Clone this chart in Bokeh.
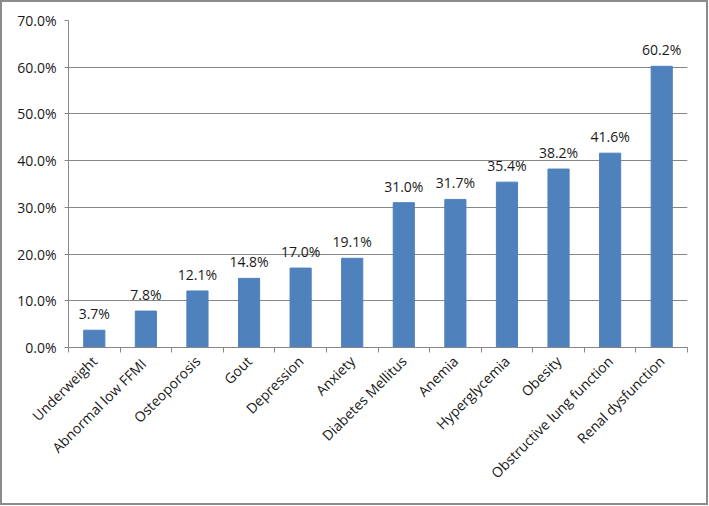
import math
from bokeh.plotting import figure
from bokeh.models import ColumnDataSource, FixedTicker, PrintfTickFormatter, Range1d
from bokeh.core.properties import value
from bokeh.embed import file_html
from bokeh.resources import INLINE

categories = ["Underweight", "Abnormal  low FFMI", "Osteoporosis", "Gout", "Depression",
              "Anxiety", "Diabetes Mellitus", "Anemia", "Hyperglycemia", "Obesity",
              "Obstructive lung function", "Renal dysfunction"]
prevalence = [3.7, 7.8, 12.1, 14.8, 17.0, 19.1, 31.0, 31.7, 35.4, 38.2, 41.6, 60.2]
y_ticks = [0, 10, 20, 30, 40, 50, 60, 70]

FONT = "Open Sans"
GRID = "#878787"
TEXT = "#1a1a1a"

n = len(categories)
centers = [i + 0.5 for i in range(n)]
src = ColumnDataSource(dict(x=centers, top=prevalence,
                            label=[f"{v:.1f}%" for v in prevalence]))

p = figure(width=704, height=501, output_backend="svg", toolbar_location=None,
           x_range=Range1d(0, n), y_range=Range1d(0, 70),
           min_border_left=66, min_border_right=19, min_border_top=18, min_border_bottom=156)
p.frame_width = 619
p.frame_height = 327
p.styles = {"border": "2px solid #8c8c8c", "box-sizing": "border-box"}
p.outline_line_color = None
p.background_fill_color = "white"
p.border_fill_color = "white"

p.vbar(x="x", top="top", width=0.41, bottom=0, source=src,
       fill_color="#4F81BD", line_color="#4F81BD")
p.text(x="x", y="top", text="label", source=src, text_align="center",
       text_baseline="bottom", y_offset=-7, text_font=value(FONT),
       text_font_size="14px", text_color=TEXT)

# y axis
p.yaxis.ticker = FixedTicker(ticks=y_ticks, minor_ticks=[])
p.yaxis.formatter = PrintfTickFormatter(format="%.1f%%")
p.yaxis.axis_line_color = GRID
p.yaxis.major_tick_line_color = GRID
p.yaxis.major_tick_out = 4
p.yaxis.major_tick_in = 0
p.yaxis.minor_tick_line_color = None
p.yaxis.major_label_standoff = 8
p.yaxis.major_label_text_font = FONT
p.yaxis.major_label_text_font_size = "14px"
p.yaxis.major_label_text_color = TEXT
p.ygrid.ticker = FixedTicker(ticks=y_ticks)
p.ygrid.grid_line_color = GRID
p.ygrid.grid_line_width = 1

# x axis
p.xaxis.ticker = FixedTicker(ticks=centers, minor_ticks=list(range(n + 1)))
p.xaxis.major_label_overrides = {c: lab for c, lab in zip(centers, categories)}
p.xaxis.major_tick_out = 0
p.xaxis.major_tick_in = 0
p.xaxis.minor_tick_out = 5
p.xaxis.minor_tick_in = 0
p.xaxis.minor_tick_line_color = GRID
p.xaxis.axis_line_color = GRID
p.xaxis.major_label_orientation = math.pi / 4
p.xaxis.major_label_standoff = 6
p.xaxis.major_label_text_font = FONT
p.xaxis.major_label_text_font_size = "14px"
p.xaxis.major_label_text_color = TEXT
p.xgrid.grid_line_color = None

open("out.html", "w").write(file_html(p, INLINE))
